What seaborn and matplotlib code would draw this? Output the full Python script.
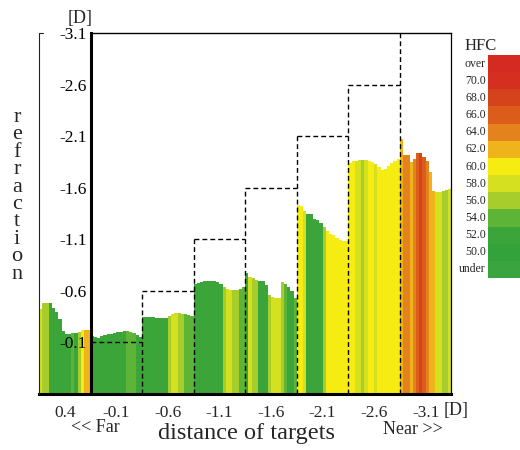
import numpy as np
import pandas as pd
import matplotlib
matplotlib.use("Agg")
import matplotlib.pyplot as plt
from matplotlib.colors import ListedColormap
import seaborn as sns

# Target distances [D], far -> near; 16 consecutive readings per target
targets = [0.4, -0.1, -0.6, -1.1, -1.6, -2.1, -2.6, -3.1]
target_labels = ["0.4", "-0.1", "-0.6", "-1.1", "-1.6", "-2.1", "-2.6", "-3.1"]

# Measured refraction [D] for each target
refraction = [
    [-0.42, -0.48, -0.48, -0.48, -0.43, -0.39, -0.32, -0.21, -0.18, -0.18, -0.19, -0.19, -0.20, -0.22, -0.22, -0.22],
    [-0.16, -0.15, -0.14, -0.16, -0.17, -0.18, -0.18, -0.19, -0.20, -0.20, -0.21, -0.21, -0.20, -0.19, -0.17, -0.15],
    [-0.34, -0.34, -0.34, -0.34, -0.33, -0.33, -0.33, -0.33, -0.35, -0.37, -0.38, -0.38, -0.37, -0.37, -0.36, -0.35],
    [-0.66, -0.67, -0.68, -0.69, -0.69, -0.69, -0.69, -0.68, -0.66, -0.63, -0.62, -0.61, -0.61, -0.61, -0.62, -0.63],
    [-0.77, -0.73, -0.72, -0.70, -0.69, -0.69, -0.65, -0.56, -0.54, -0.53, -0.53, -0.68, -0.66, -0.63, -0.60, -0.53],
    [-1.43, -1.42, -1.37, -1.34, -1.34, -1.30, -1.29, -1.26, -1.22, -1.18, -1.15, -1.14, -1.11, -1.09, -1.08, -1.08],
    [-1.84, -1.86, -1.86, -1.87, -1.87, -1.87, -1.86, -1.85, -1.83, -1.80, -1.77, -1.78, -1.81, -1.84, -1.86, -1.88],
    [-2.07, -1.92, -1.92, -1.85, -1.88, -1.94, -1.94, -1.90, -1.86, -1.75, -1.57, -1.56, -1.56, -1.57, -1.58, -1.59],
]

# High-frequency component (HFC) of accommodative microfluctuation for each reading
hfc = [
    [59, 57, 57, 53, 53, 53, 53, 53, 53, 53, 55, 53, 57, 61, 63, 63],
    [53, 53, 53, 53, 53, 53, 53, 53, 53, 53, 53, 55, 55, 55, 53, 53],
    [53, 53, 53, 53, 53, 53, 53, 53, 57, 59, 59, 57, 57, 55, 55, 55],
    [53, 53, 53, 53, 53, 53, 53, 53, 53, 57, 59, 59, 57, 57, 55, 55],
    [53, 59, 57, 57, 53, 53, 53, 57, 59, 59, 59, 57, 55, 53, 53, 55],
    [61, 61, 59, 53, 53, 53, 53, 53, 57, 61, 61, 61, 61, 61, 61, 61],
    [61, 61, 59, 59, 57, 59, 61, 61, 59, 61, 61, 61, 61, 61, 61, 61],
    [63, 65, 65, 63, 65, 67, 69, 67, 65, 63, 63, 59, 59, 57, 57, 59],
]

# HFC colour scale
hfc_bins = [50, 52, 54, 56, 58, 60, 62, 64, 66, 68, 70, 72]
hfc_levels = ["under", "50.0", "52.0", "54.0", "56.0", "58.0", "60.0",
              "62.0", "64.0", "66.0", "68.0", "70.0", "over"]
hfc_colors = ["#3aa43e", "#34a23a", "#3ba53a", "#5db437", "#a6cd2c", "#d4e020",
              "#f6ec12", "#efb41b", "#e4821e", "#dc5c1c", "#d5431d", "#d5301f", "#d42a22"]

base = targets[0]  # bars rise from the far end of the scale

rows = []
for k, (vals, hs) in enumerate(zip(refraction, hfc)):
    n = len(vals)
    for i, (v, h) in enumerate(zip(vals, hs)):
        rows.append({"pos": k + (i + 0.5) / n,
                     "rise": base - v,
                     "hfc": hfc_levels[int(np.digitize(h, hfc_bins))]})
df = pd.DataFrame(rows)

sns.set_style("white")
plt.rcParams["font.family"] = ["Liberation Serif", "DejaVu Serif"]

fig = plt.figure(figsize=(5.2, 4.5), dpi=100)
W, H = 520, 450
ax = fig.add_axes([39 / W, (H - 393.5) / H, 412.5 / W, 360.2 / H])

sns.barplot(data=df, x="pos", y="rise", hue="hfc", hue_order=hfc_levels,
            palette=dict(zip(hfc_levels, hfc_colors)), native_scale=True,
            width=1.0, saturation=1, errorbar=None, legend=False,
            linewidth=0, antialiased=False, ax=ax)

ax.set_axisbelow(False)
ax.set_xlim(0, 8)
ax.set_ylim(0, base - targets[-1])
ax.set_xlabel("")
ax.set_ylabel("")

# Target step: dashed levels and boundaries (the nearest level is the top frame)
levels = [base - t for t in targets]
dash = (0, (3.5, 2.2))
ax.hlines(levels[1:-1], np.arange(1, 7), np.arange(2, 8), colors="black",
          linestyles=dash, linewidth=1.0, zorder=3)
ax.vlines(np.arange(2, 8), 0, levels[2:], colors="black",
          linestyles=dash, linewidth=1.0, zorder=3)

# Frame
for s in ax.spines.values():
    s.set_color("black")
ax.spines["left"].set_position(("data", 1))
ax.spines["left"].set_linewidth(2.2)
ax.spines["bottom"].set_linewidth(2.2)
ax.spines["top"].set_bounds(1, 8)
ax.spines["top"].set_linewidth(1.0)
ax.spines["right"].set_linewidth(0.9)
ax.plot([0.07, 0, 0], [levels[-1], levels[-1], 0], color="#222222",
        linewidth=0.8, clip_on=False, zorder=3)

# Ticks
ax.set_yticks(levels[1:], target_labels[1:])
ax.tick_params(axis="y", direction="in", length=6, width=2.2, pad=3,
               labelsize=12.5, colors="black")
ax.set_xticks(np.arange(2, 9))
ax.set_xticklabels([])
ax.tick_params(axis="x", which="major", direction="in", length=3.5, width=2.2)
ax.set_xticks(np.arange(8) + 0.5, target_labels, minor=True)
ax.tick_params(axis="x", which="minor", length=0, pad=8, labelsize=12.5)

# Annotations
fig.text(80 / W, 1 - 19 / H, "[D]", ha="center", va="center", fontsize=13)
fig.text(456 / W, 1 - 410 / H, "[D]", ha="center", va="center", fontsize=13)
fig.text(95 / W, 1 - 427 / H, "<< Far", ha="center", va="center", fontsize=13)
fig.text(413 / W, 1 - 430 / H, "Near >>", ha="center", va="center", fontsize=13)
fig.text(247 / W, 1 - 433 / H, "distance of targets", ha="center", va="center",
         fontsize=17.5)
for i, ch in enumerate("refraction"):
    fig.text(17 / W, 1 - (122 + 17.4 * i) / H, ch, ha="center", va="baseline",
             fontsize=16)

# HFC colour key
lax = fig.add_axes([488 / W, (H - 278) / H, 40 / W, 223 / H])
key = np.arange(len(hfc_levels))[::-1].reshape(-1, 1)
sns.heatmap(key, cmap=ListedColormap(hfc_colors), vmin=-0.5,
            vmax=len(hfc_levels) - 0.5, cbar=False, ax=lax,
            xticklabels=False, yticklabels=hfc_levels[::-1])
lax.tick_params(axis="y", length=0, pad=1.5, labelsize=8.5, rotation=0)
fig.text(481 / W, 1 - 46 / H, "HFC", ha="center", va="center", fontsize=12)

fig.savefig("out.png", dpi=100, facecolor="white")
